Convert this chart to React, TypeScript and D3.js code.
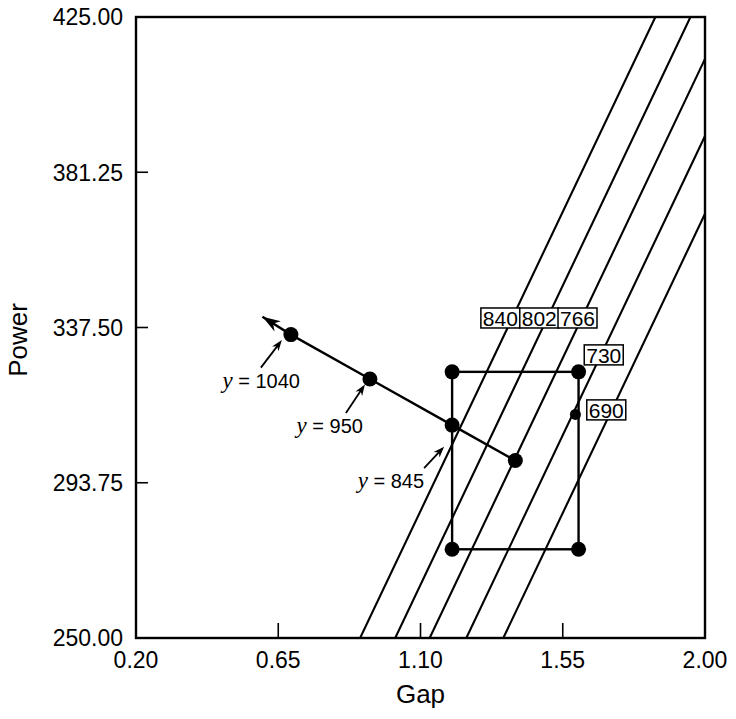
import * as d3 from "d3";
import React from "react";

// axis ticks
const gapTicks = [0.2, 0.65, 1.1, 1.55, 2.0];
const powerTicks = [250, 293.75, 337.5, 381.25, 425];

// parallel contour lines: gap where each crosses power = 250 and power = 425
const contourLabels = ["840", "802", "766", "730", "690"];
const contourGapAt250 = [0.909, 1.02, 1.129, 1.245, 1.362];
const contourGapAt425 = [1.843, 1.954, 2.063, 2.179, 2.296];

// label boxes (top-left corner in data units)
const labelGap = [1.291, 1.414, 1.535, 1.618, 1.626];
const labelPower = [343, 343, 343, 332.6, 317.1];

// path of steepest ascent
const pathGap = [1.4, 1.2, 0.94, 0.69, 0.6];
const pathPower = [300, 310, 323, 335.5, 340.5];

// design square
const squareGap = [1.2, 1.6];
const squarePower = [275, 325];

// extra point on the right edge
const extraGap = 1.59;
const extraPower = 313;

// y annotations on path points
const annotLabels = ["1040", "950", "845"];
const annotIndex = [3, 2, 1];

const W = 736;
const H = 719;
const margin = { left: 136, right: 31, top: 17, bottom: 81 };

export default function App() {
  const x = d3.scaleLinear().domain([0.2, 2.0]).range([margin.left, W - margin.right]);
  const y = d3.scaleLinear().domain([250, 425]).range([H - margin.bottom, margin.top]);

  const [x0, x1] = x.range();
  const [y0, y1] = y.range();

  const line = d3
    .line<number>()
    .x((i) => x(pathGap[i]))
    .y((i) => y(pathPower[i]));

  // arrow and text offsets in px from each annotated dot
  const annotStyle = [
    { tail: [-30, 33], tip: [-9, 5.5], tx: 9, ty: 53 },
    { tail: [-24, 34], tip: [-5, 5.6], tx: -7, ty: 54 },
    { tail: [-28, 43], tip: [-8, 21.7], tx: -28, ty: 63 },
  ];

  const sans = "'Liberation Sans', Arial, sans-serif";
  const serif = "'Liberation Serif', 'Times New Roman', serif";

  // arrow head at end of path
  const n = pathGap.length;
  const ex = x(pathGap[n - 1]);
  const ey = y(pathPower[n - 1]);
  const px = x(pathGap[n - 2]);
  const py = y(pathPower[n - 2]);
  const ang = Math.atan2(ey - py, ex - px);
  const head = (len: number, wid: number, tx: number, ty: number, a: number) => {
    const bx = tx - len * Math.cos(a);
    const by = ty - len * Math.sin(a);
    const nx = -Math.sin(a) * wid;
    const ny = Math.cos(a) * wid;
    return `M${tx},${ty}L${bx + nx},${by + ny}L${bx + len * 0.3 * Math.cos(a)},${by + len * 0.3 * Math.sin(a)}L${bx - nx},${by - ny}Z`;
  };

  return (
    <svg width={W} height={H} style={{ position: "absolute", left: 0, top: 0, background: "#fff" }}>
      <defs>
        <clipPath id="plot">
          <rect x={x0} y={y1} width={x1 - x0} height={y0 - y1} />
        </clipPath>
      </defs>

      {/* contour lines */}
      <g clipPath="url(#plot)" stroke="#000" strokeWidth={2.1} fill="none">
        {contourLabels.map((d, i) => (
          <line key={d} x1={x(contourGapAt250[i])} y1={y(250)} x2={x(contourGapAt425[i])} y2={y(425)} />
        ))}
      </g>

      {/* frame */}
      <rect x={x0} y={y1} width={x1 - x0} height={y0 - y1} fill="none" stroke="#000" strokeWidth={2.4} />

      {/* inner ticks */}
      {gapTicks.slice(1, -1).map((t) => (
        <line key={t} x1={x(t)} x2={x(t)} y1={y0} y2={y0 - 15} stroke="#000" strokeWidth={1.6} />
      ))}
      {powerTicks.slice(1, -1).map((t) => (
        <line key={t} x1={x0} x2={x0 + 12} y1={y(t)} y2={y(t)} stroke="#000" strokeWidth={1.6} />
      ))}

      {/* tick labels */}
      <g fontFamily={sans} fontSize={23} fill="#000">
        {gapTicks.map((t) => (
          <text key={t} x={x(t)} y={y0 + 30} textAnchor="middle">
            {t.toFixed(2)}
          </text>
        ))}
        {powerTicks.map((t) => (
          <text key={t} x={x0 - 13} y={y(t)} dy="0.36em" textAnchor="end">
            {t.toFixed(2)}
          </text>
        ))}
      </g>

      {/* axis titles */}
      <text x={(x0 + x1) / 2} y={703} textAnchor="middle" fontFamily={sans} fontSize={26}>
        Gap
      </text>
      <text
        transform={`translate(27,340) rotate(-90)`}
        textAnchor="middle"
        fontFamily={sans}
        fontSize={26}
      >
        Power
      </text>

      {/* design square */}
      <rect
        x={x(squareGap[0])}
        y={y(squarePower[1])}
        width={x(squareGap[1]) - x(squareGap[0])}
        height={y(squarePower[0]) - y(squarePower[1])}
        fill="none"
        stroke="#000"
        strokeWidth={2.4}
      />
      {squareGap.flatMap((g) =>
        squarePower.map((p) => <circle key={`${g}-${p}`} cx={x(g)} cy={y(p)} r={7.5} fill="#000" />),
      )}
      <circle cx={x(extraGap)} cy={y(extraPower)} r={5.5} fill="#000" />

      {/* path of steepest ascent */}
      <path d={line(d3.range(n))!} fill="none" stroke="#000" strokeWidth={2.4} />
      <path d={head(18, 6, ex, ey, ang)} fill="#000" />
      {d3.range(n - 1).map((i) => (
        <circle key={i} cx={x(pathGap[i])} cy={y(pathPower[i])} r={7.5} fill="#000" />
      ))}

      {/* annotations */}
      {annotLabels.map((lab, k) => {
        const i = annotIndex[k];
        const cx = x(pathGap[i]);
        const cy = y(pathPower[i]);
        const s = annotStyle[k];
        const tx = cx + s.tip[0];
        const ty = cy + s.tip[1];
        const ax = cx + s.tail[0];
        const ay = cy + s.tail[1];
        const a = Math.atan2(ty - ay, tx - ax);
        return (
          <g key={lab}>
            <line x1={ax} y1={ay} x2={tx - 6 * Math.cos(a)} y2={ty - 6 * Math.sin(a)} stroke="#000" strokeWidth={1.8} />
            <path d={head(11, 4, tx, ty, a)} fill="#000" />
            <text x={cx + s.tx} y={cy + s.ty} textAnchor="end" fontSize={20}>
              <tspan fontFamily={serif} fontStyle="italic" fontSize={23}>
                y
              </tspan>
              <tspan fontFamily={sans}>{` = ${lab}`}</tspan>
            </text>
          </g>
        );
      })}

      {/* contour label boxes */}
      {contourLabels.map((d, i) => {
        const bx = x(labelGap[i]);
        const by = y(labelPower[i]);
        return (
          <g key={d}>
            <rect x={bx} y={by} width={39} height={20} fill="#fff" stroke="#000" strokeWidth={1.5} />
            <text x={bx + 19.5} y={by + 17.8} textAnchor="middle" fontFamily={sans} fontSize={21}>
              {d}
            </text>
          </g>
        );
      })}
    </svg>
  );
}
